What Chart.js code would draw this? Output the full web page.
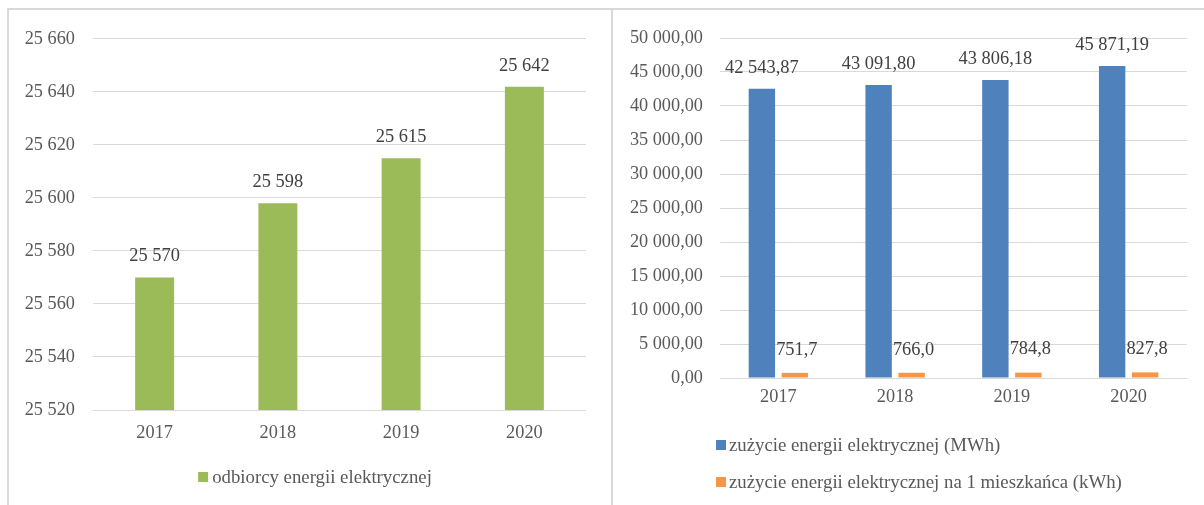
<!DOCTYPE html>
<html>
<head>
<meta charset="utf-8">
<script src="https://cdn.jsdelivr.net/npm/chart.js@4/dist/chart.umd.min.js"></script>
<style>
  html, body { margin:0; padding:0; background:#fff; width:1204px; height:505px; overflow:hidden; }
  .line { position:absolute; background:#d9d9d9; }
  canvas { position:absolute; }
</style>
</head>
<body>
<div class="line" style="left:7px; top:8px; width:1197px; height:2px;"></div>
<div class="line" style="left:7px; top:8px; width:2px; height:497px;"></div>
<div class="line" style="left:611px; top:8px; width:2px; height:497px;"></div>
<canvas id="left" width="602" height="495" style="left:9px; top:10px;"></canvas>
<canvas id="right" width="590" height="495" style="left:614px; top:10px;"></canvas>
<script>
// ---- data ----
const years = ['2017', '2018', '2019', '2020'];
const customers = [25570, 25598, 25615, 25642];
const consumptionMWh = [42543.87, 43091.80, 43806.18, 45871.19];
const consumptionPerCapita = [751.7, 766.0, 784.8, 827.8];
const leftTickValues = [25520, 25540, 25560, 25580, 25600, 25620, 25640, 25660];
const rightTickValues = [0, 5000, 10000, 15000, 20000, 25000, 30000, 35000, 40000, 45000, 50000];
const leftSeriesName = 'odbiorcy energii elektrycznej';
const rightSeriesNames = ['zużycie energii elektrycznej (MWh)', 'zużycie energii elektrycznej na 1 mieszkańca (kWh)'];

// ---- formatting ----
function group(s) { return s.replace(/\B(?=(\d{3})+(?!\d))/g, ' '); }
function fmtInt(v) { return group(String(Math.round(v))); }
function fmtDec(v, d) { const p = v.toFixed(d).split('.'); return group(p[0]) + ',' + p[1]; }

const FONT = '"Liberation Serif", "Times New Roman", serif';
Chart.defaults.font.family = FONT;
Chart.defaults.font.size = 18.3;
Chart.defaults.color = '#595959';

const GREEN = '#9BBB59', BLUE = '#4F81BD', ORANGE = '#F79646';

// ---- plugins ----
const barLabels = {
  id: 'barLabels',
  afterDatasetsDraw(chart, args, opts) {
    const ctx = chart.ctx;
    ctx.save();
    ctx.font = '18.4px ' + FONT;
    ctx.fillStyle = '#404040';
    ctx.textAlign = 'center';
    ctx.textBaseline = 'middle';
    chart.data.datasets.forEach((ds, i) => {
      const meta = chart.getDatasetMeta(i);
      meta.data.forEach((bar, j) => {
        ctx.fillText(opts.format[i](ds.data[j]), bar.x + (opts.dx ? opts.dx[i] : 0), bar.y - opts.dy[i]);
      });
    });
    ctx.restore();
  }
};

const boxLegend = {
  id: 'boxLegend',
  afterDraw(chart, args, opts) {
    const ctx = chart.ctx;
    ctx.save();
    ctx.font = '18.8px ' + FONT;
    ctx.textBaseline = 'middle';
    ctx.textAlign = 'left';
    chart.data.datasets.forEach((ds, i) => {
      const it = opts.items[i];
      const tw = ctx.measureText(ds.label).width;
      const total = 10 + opts.gap + tw;
      const x0 = it.cx !== undefined ? it.cx - total / 2 : it.x;
      ctx.fillStyle = ds.backgroundColor;
      ctx.fillRect(x0, it.y - 5, 10, 10);
      ctx.fillStyle = '#595959';
      ctx.fillText(ds.label, x0 + 10 + opts.gap, it.y + 1);
    });
    ctx.restore();
  }
};

// ---- left chart ----
new Chart(document.getElementById('left'), {
  type: 'bar',
  data: {
    labels: years,
    datasets: [{ label: leftSeriesName, data: customers, backgroundColor: GREEN, borderWidth: 0,
                 categoryPercentage: 1, barPercentage: 0.316 }]
  },
  options: {
    responsive: false, animation: false,
    layout: { padding: { top: 28, right: 25, bottom: 50, left: 0 } },
    scales: {
      x: {
        grid: { display: false, drawTicks: false }, border: { display: false },
        ticks: { padding: 12, color: '#595959' },
        afterFit(s) { s.height = 45; }
      },
      y: {
        min: leftTickValues[0], max: leftTickValues[leftTickValues.length - 1],
        grid: { color: '#d9d9d9', lineWidth: 1, drawTicks: false }, border: { display: false },
        afterBuildTicks(s) { s.ticks = leftTickValues.map(v => ({ value: v })); },
        ticks: { padding: 18, color: '#595959', callback: v => fmtInt(v) },
        afterFit(s) { s.width = 84; }
      }
    },
    plugins: {
      legend: { display: false }, tooltip: { enabled: false },
      barLabels: { format: [v => fmtInt(v)], dy: [21] },
      boxLegend: { gap: 4, items: [{ cx: 306, y: 467 }] }
    }
  },
  plugins: [barLabels, boxLegend]
});

// ---- right chart ----
new Chart(document.getElementById('right'), {
  type: 'bar',
  data: {
    labels: years,
    datasets: [
      { label: rightSeriesNames[0], data: consumptionMWh, backgroundColor: BLUE, borderWidth: 0,
        categoryPercentage: 0.565, barPercentage: 0.8 },
      { label: rightSeriesNames[1], data: consumptionPerCapita, backgroundColor: ORANGE, borderWidth: 0,
        categoryPercentage: 0.565, barPercentage: 0.8 }
    ]
  },
  options: {
    responsive: false, animation: false,
    layout: { padding: { top: 28, right: 17, bottom: 87, left: 0 } },
    scales: {
      x: {
        grid: { display: false, drawTicks: false }, border: { display: false },
        ticks: { padding: 8, color: '#595959' },
        afterFit(s) { s.height = 40; }
      },
      y: {
        min: rightTickValues[0], max: rightTickValues[rightTickValues.length - 1],
        grid: { color: '#d9d9d9', lineWidth: 1, drawTicks: false }, border: { display: false },
        afterBuildTicks(s) { s.ticks = rightTickValues.map(v => ({ value: v })); },
        ticks: { padding: 17, color: '#595959', callback: v => fmtDec(v, 2) },
        afterFit(s) { s.width = 106; }
      }
    },
    plugins: {
      legend: { display: false }, tooltip: { enabled: false },
      barLabels: { format: [v => fmtDec(v, 2), v => fmtDec(v, 1)], dy: [21, 23], dx: [0, 2] },
      boxLegend: { gap: 3, items: [{ x: 102, y: 435 }, { x: 102, y: 472 }] }
    }
  },
  plugins: [barLabels, boxLegend]
});
</script>
</body>
</html>
